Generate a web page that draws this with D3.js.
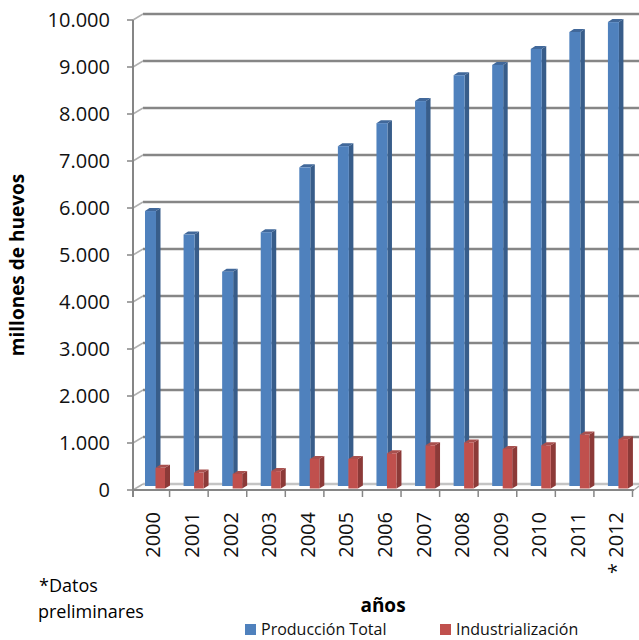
<!DOCTYPE html>
<html>
<head>
<meta charset="utf-8">
<script src="https://cdn.jsdelivr.net/npm/d3@7"></script>
<style>
  html, body { margin: 0; padding: 0; background: #fff; }
  svg { display: block; font-family: "Open Sans", sans-serif; }
</style>
</head>
<body>
<div id="chart"></div>
<script>
// Producción de huevos (millones), 2000-2012
const years = ["2000", "2001", "2002", "2003", "2004", "2005", "2006", "2007", "2008", "2009", "2010", "2011", "* 2012"];
const produccionTotal = [5850, 5350, 4560, 5400, 6780, 7230, 7720, 8190, 8740, 8960, 9300, 9660, 9870];
const industrializacion = [440, 340, 310, 370, 630, 630, 750, 920, 980, 840, 920, 1150, 1050];
const yTicks = [0, 1000, 2000, 3000, 4000, 5000, 6000, 7000, 8000, 9000, 10000];
const seriesNames = ["Producción Total", "Industrialización"];

const width = 639;
const height = 640;

const svg = d3
  .select("#chart")
  .append("svg")
  .attr("width", width)
  .attr("height", height)
  .attr("viewBox", [0, 0, width, height]);

const x = d3.scaleBand().domain(years).range([131, 632.5]);
const y = d3.scaleLinear().domain([0, 10000]).range([490, 20]);

const axisX = 133;
const wall = { dx: 10, dy: -6 };
const grey = "#868686";
const fmt = (v) => d3.format(",")(v).replace(/,/g, ".");

// back wall gridlines + y ticks
const grid = svg.append("g");
grid
  .selectAll("line.grid")
  .data(yTicks)
  .join("line")
  .attr("class", "grid")
  .attr("x1", axisX + wall.dx)
  .attr("x2", width)
  .attr("y1", (d) => y(d) + wall.dy)
  .attr("y2", (d) => y(d) + wall.dy)
  .attr("stroke", (d) => (d === 0 ? "#c4c4c4" : grey))
  .attr("stroke-width", 2.4);

grid
  .selectAll("line.diag")
  .data(yTicks)
  .join("line")
  .attr("class", "diag")
  .attr("x1", axisX)
  .attr("x2", axisX + wall.dx)
  .attr("y1", (d) => y(d))
  .attr("y2", (d) => y(d) + wall.dy)
  .attr("stroke", "#b0b0b0")
  .attr("stroke-width", 1.5);

grid
  .selectAll("line.ytick")
  .data(yTicks)
  .join("line")
  .attr("class", "ytick")
  .attr("x1", axisX - 6)
  .attr("x2", axisX)
  .attr("y1", (d) => y(d))
  .attr("y2", (d) => y(d))
  .attr("stroke", grey)
  .attr("stroke-width", 1.5);

grid
  .selectAll("text")
  .data(yTicks)
  .join("text")
  .attr("x", 110)
  .attr("y", (d) => y(d))
  .attr("dy", "0.36em")
  .attr("text-anchor", "end")
  .style("font-size", "20px")
  .attr("fill", "#111")
  .text((d) => fmt(d));

// 3D-ish columns: front face, right side, top
function drawSeries(values, opts) {
  const g = svg.append("g");
  const data = years.map((yr, i) => ({ yr, v: values[i] }));
  const x0 = (d) => x(d.yr) + opts.offset;
  const x1 = (d) => x0(d) + opts.w;
  const top = (d) => y(d.v) + opts.lift;
  const base = y(0) + opts.lift;

  g.selectAll("path.side")
    .data(data)
    .join("path")
    .attr("class", "side")
    .attr("d", (d) =>
      `M${x1(d)},${base}L${x1(d)},${top(d)}L${x1(d) + opts.dx},${top(d) - opts.dy}` +
      `L${x1(d) + opts.dx},${base - opts.dy}Z`)
    .attr("fill", opts.side);

  g.selectAll("path.top")
    .data(data)
    .join("path")
    .attr("class", "top")
    .attr("d", (d) =>
      `M${x0(d)},${top(d)}L${x1(d)},${top(d)}L${x1(d) + opts.dx},${top(d) - opts.dy}` +
      `L${x0(d) + opts.dx},${top(d) - opts.dy}Z`)
    .attr("fill", opts.top);

  g.selectAll("rect")
    .data(data)
    .join("rect")
    .attr("x", x0)
    .attr("y", top)
    .attr("width", opts.w)
    .attr("height", (d) => base - top(d))
    .attr("fill", opts.front);
}

drawSeries(produccionTotal, {
  offset: 14, w: 11, dx: 4.5, dy: 3, lift: -4,
  front: "#4f81bd", side: "#385d8a", top: "#41689a",
});
drawSeries(industrializacion, {
  offset: 24.5, w: 9.5, dx: 5, dy: 3, lift: -1.5,
  front: "#c0504d", side: "#8c3a38", top: "#a8504e",
});

// axes lines
svg.append("line")
  .attr("x1", axisX).attr("x2", axisX)
  .attr("y1", y(10000)).attr("y2", 497)
  .attr("stroke", grey).attr("stroke-width", 2);

svg.append("line")
  .attr("x1", axisX).attr("x2", 634)
  .attr("y1", y(0)).attr("y2", y(0))
  .attr("stroke", grey).attr("stroke-width", 2);

svg.append("line")
  .attr("x1", 634).attr("x2", 639)
  .attr("y1", y(0)).attr("y2", y(0) - 4)
  .attr("stroke", "#b0b0b0").attr("stroke-width", 1.5);

svg.append("g")
  .selectAll("line")
  .data(years.slice(1).map((d) => x(d)).concat([x.range()[1]]))
  .join("line")
  .attr("x1", (d) => d)
  .attr("x2", (d) => d)
  .attr("y1", y(0))
  .attr("y2", 497)
  .attr("stroke", grey)
  .attr("stroke-width", 1.5);

// year labels (rotated)
svg.append("g")
  .selectAll("text")
  .data(years)
  .join("text")
  .attr("transform", (d) => `translate(${x(d) + x.bandwidth() / 2 + 3},512) rotate(-90)`)
  .attr("text-anchor", "end")
  .attr("dy", "0.36em")
  .style("font-size", "20px")
  .attr("fill", "#111")
  .text((d) => d);

// axis titles
svg.append("text")
  .attr("transform", "translate(17,265) rotate(-90)")
  .attr("text-anchor", "middle")
  .attr("dy", "0.36em")
  .style("font-size", "19px")
  .style("font-weight", 700)
  .text("millones de huevos");

svg.append("text")
  .attr("x", 383)
  .attr("y", 612)
  .attr("text-anchor", "middle")
  .style("font-size", "19px")
  .style("font-weight", 700)
  .text("años");

// note
svg.append("text")
  .attr("x", 39)
  .attr("y", 592)
  .style("font-size", "18px")
  .text("*Datos");
svg.append("text")
  .attr("x", 38)
  .attr("y", 618)
  .style("font-size", "18px")
  .text("preliminares");

// legend
const legend = svg.append("g")
  .selectAll("g")
  .data(seriesNames)
  .join("g")
  .attr("transform", (d, i) => `translate(${[245, 440][i]},624)`);

legend.append("rect")
  .attr("width", 11)
  .attr("height", 11)
  .attr("fill", (d, i) => ["#4f81bd", "#c0504d"][i]);

legend.append("text")
  .attr("x", 16)
  .attr("y", 11)
  .style("font-size", "16px")
  .attr("fill", "#111")
  .text((d) => d);
</script>
</body>
</html>
